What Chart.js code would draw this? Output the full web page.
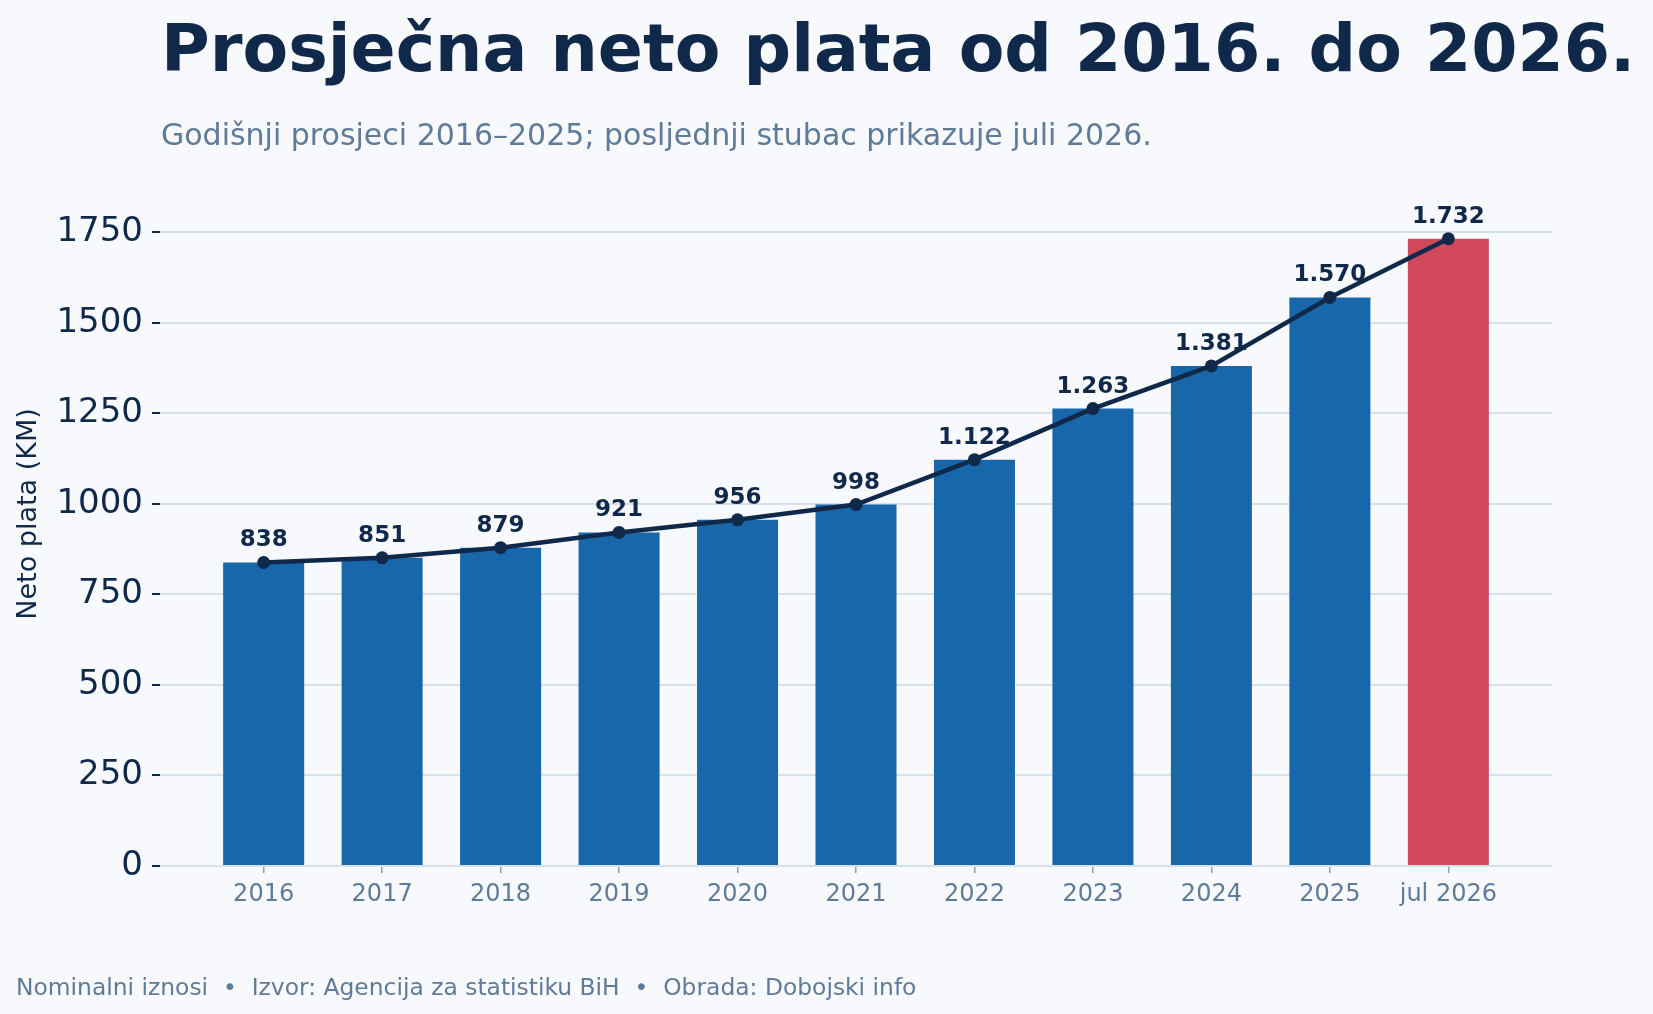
<!DOCTYPE html>
<html>
<head>
<meta charset="utf-8">
<script src="https://cdn.jsdelivr.net/npm/chart.js@4.4.1/dist/chart.umd.min.js"></script>
<style>
  html, body { margin: 0; padding: 0; background: #f7f9fc; }
  #wrap { position: relative; width: 1653px; height: 1014px; overflow: hidden; font-family: "DejaVu Sans", sans-serif; }
  #chartBox { position: absolute; left: 0; top: 0; width: 1653px; height: 1014px; }
  .txt { position: absolute; white-space: nowrap; line-height: 1; }
  #title { left: 161px; top: 15px; font-size: 66.5px; font-weight: bold; color: #10294a; }
  #subtitle { left: 161px; top: 120px; font-size: 30px; color: #5f7b98; }
  #footer { left: 16px; top: 976px; font-size: 23.4px; color: #5f7b98; }
</style>
</head>
<body>
<div id="wrap">
  <div id="chartBox"><canvas id="chart"></canvas></div>
  <div class="txt" id="title">Prosječna neto plata od 2016. do 2026.</div>
  <div class="txt" id="subtitle">Godišnji prosjeci 2016–2025; posljednji stubac prikazuje juli 2026.</div>
  <div class="txt" id="footer">Nominalni iznosi &nbsp;•&nbsp; Izvor: Agencija za statistiku BiH &nbsp;•&nbsp; Obrada: Dobojski info</div>
</div>
<script>
// data
const years = ['2016', '2017', '2018', '2019', '2020', '2021', '2022', '2023', '2024', '2025', 'jul 2026'];
const netoPlata = [838, 851, 879, 921, 956, 998, 1122, 1263, 1381, 1570, 1732];
const yTicks = [0, 250, 500, 750, 1000, 1250, 1500, 1750];

const navy = '#10294a';
const blue = '#1967ab';
const red = '#d2495c';
const muted = '#5f7b98';

function formatKM(v) {
    if (v < 1000) return String(v);
    return Math.floor(v / 1000) + '.' + String(v % 1000).padStart(3, '0');
}

const points = netoPlata.map((v, i) => ({ x: i, y: v }));

// value labels above the line points
const valueLabels = {
    id: 'valueLabels',
    afterDatasetsDraw(chart) {
        const meta = chart.getDatasetMeta(0);
        const ctx = chart.ctx;
        ctx.save();
        ctx.font = 'bold 23px "DejaVu Sans"';
        ctx.fillStyle = navy;
        ctx.textAlign = 'center';
        ctx.textBaseline = 'middle';
        meta.data.forEach((pt, i) => {
            ctx.fillText(formatKM(netoPlata[i]), pt.x, pt.y - 22);
        });
        ctx.restore();
    }
};

new Chart(document.getElementById('chart').getContext('2d'), {
    data: {
        datasets: [{
            type: 'line',
            data: points,
            borderColor: navy,
            borderWidth: 4.5,
            pointRadius: 6.5,
            pointBackgroundColor: navy,
            pointBorderWidth: 0,
            tension: 0,
            order: 0
        }, {
            type: 'bar',
            data: points,
            backgroundColor: ctx => ctx.dataIndex === netoPlata.length - 1 ? red : blue,
            barPercentage: 0.684,
            categoryPercentage: 1,
            order: 1
        }]
    },
    plugins: [valueLabels],
    options: {
        responsive: true,
        maintainAspectRatio: false,
        animation: false,
        layout: { padding: { left: 0, top: 162, right: 101, bottom: 0 } },
        plugins: {
            legend: { display: false },
            tooltip: { enabled: false },
            title: { display: false }
        },
        scales: {
            x: {
                type: 'linear',
                offset: false,
                min: -0.875,
                max: 10.875,
                afterBuildTicks: axis => { axis.ticks = years.map((y, i) => ({ value: i })); },
                afterFit: axis => { axis.height = 148; },
                grid: { offset: false, drawOnChartArea: false, drawTicks: true, tickLength: 7, tickColor: '#8fa1b5', lineWidth: 1.5 },
                border: { display: false },
                ticks: {
                    autoSkip: false,
                    maxRotation: 0,
                    padding: 7,
                    color: muted,
                    font: { family: 'DejaVu Sans', size: 24 },
                    callback: value => years[value]
                }
            },
            y: {
                min: 0,
                max: 1944,
                afterBuildTicks: axis => { axis.ticks = yTicks.map(v => ({ value: v })); },
                afterFit: axis => { axis.width = 160; },
                grid: { color: '#d7e1ec', lineWidth: 2, tickLength: 8, tickColor: navy, tickWidth: 2 },
                border: { display: false },
                ticks: {
                    padding: 9,
                    color: navy,
                    font: { family: 'DejaVu Sans', size: 34 },
                    callback: value => String(value)
                },
                title: {
                    display: true,
                    text: 'Neto plata (KM)',
                    color: navy,
                    padding: { top: 13, bottom: 0 },
                    font: { family: 'DejaVu Sans', size: 27 }
                }
            }
        }
    }
});
</script>
</body>
</html>
